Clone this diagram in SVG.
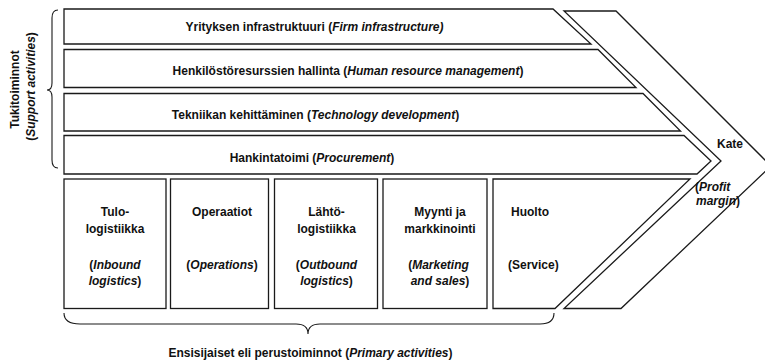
<svg xmlns="http://www.w3.org/2000/svg" width="765" height="363" viewBox="0 0 765 363">
<style>
.box{fill:#fff;stroke:#1a1a1a;stroke-width:1.3;stroke-linejoin:miter}
.brace{fill:none;stroke:#1a1a1a;stroke-width:1.1}
text{font-family:"Liberation Sans",Arial,sans-serif;font-size:12px;font-weight:bold;fill:#111}
.c{text-anchor:middle}
.i{font-style:italic}
</style>
<rect width="765" height="363" fill="#fff"/>

<g id="margin">
<polygon class="box" points="564,11 616,11 771,166 621,308.5 564,308.5 721,161"/>
<text class="c" x="730" y="148">Kate</text>
<text x="695" y="190.5">(<tspan class="i">Profit</tspan></text>
<text x="696" y="205"><tspan class="i">margin</tspan>)</text>
</g>

<g id="firm-infrastructure">
<polygon class="box" points="64,9 553,9 591,44 64,44"/>
<text class="c" x="314.5" y="31">Yrityksen infrastruktuuri (<tspan class="i">Firm infrastructure)</tspan></text>
</g>
<g id="human-resource">
<polygon class="box" points="64,49.5 598,49.5 636,87.5 64,87.5"/>
<text class="c" x="348" y="75">Henkilöstöresurssien hallinta (<tspan class="i">Human resource management</tspan>)</text>
</g>
<g id="technology">
<polygon class="box" points="64,93.5 643,93.5 680.5,131 64,131"/>
<text class="c" x="315.5" y="119">Tekniikan kehittäminen (<tspan class="i">Technology development</tspan>)</text>
</g>
<g id="procurement">
<polygon class="box" points="64,135.5 684,135.5 711,161 697,174 64,174"/>
<text class="c" x="312" y="161.5">Hankintatoimi (<tspan class="i">Procurement</tspan>)</text>
</g>

<g id="inbound">
<rect class="box" x="64" y="179" width="102" height="129.5"/>
<text class="c" x="115" y="216">Tulo-</text>
<text class="c" x="115" y="232.7">logistiikka</text>
<text class="c" x="115" y="269">(<tspan class="i">Inbound</tspan></text>
<text class="c" x="115" y="285"><tspan class="i">logistics</tspan>)</text>
</g>
<g id="operations">
<rect class="box" x="170.5" y="179" width="98" height="129.5"/>
<text class="c" x="222" y="216">Operaatiot</text>
<text class="c" x="222" y="269">(<tspan class="i">Operations</tspan>)</text>
</g>
<g id="outbound">
<rect class="box" x="274.5" y="179" width="103" height="129.5"/>
<text class="c" x="326.5" y="216">Lähtö-</text>
<text class="c" x="326.5" y="232.7">logistiikka</text>
<text class="c" x="326.5" y="269">(<tspan class="i">Outbound</tspan></text>
<text class="c" x="326.5" y="285"><tspan class="i">logistics</tspan>)</text>
</g>
<g id="marketing">
<rect class="box" x="383" y="179" width="104" height="129.5"/>
<text class="c" x="440" y="216">Myynti ja</text>
<text class="c" x="440" y="232.7">markkinointi</text>
<text class="c" x="438.5" y="269">(<tspan class="i">Marketing</tspan></text>
<text class="c" x="440" y="285"><tspan class="i">and sales</tspan>)</text>
</g>
<g id="service">
<polygon class="box" points="493,179 690,179 555,308.5 493,308.5"/>
<text x="511" y="216">Huolto</text>
<text x="508" y="269">(Service)</text>
</g>

<g id="braces">
<path class="brace" d="M58,10 Q52,10 52,18 L52,83 Q52,90 47,90 Q52,90 52,97 L52,160 Q52,168 58,168"/>
<path class="brace" d="M64,313 Q64,324 80,324 L296,324 Q308,324 308,334 Q308,324 320,324 L540,324 Q554,324 554,313"/>
</g>

<g id="group-labels">
<text class="c" transform="translate(19,89.5) rotate(-90)">Tukitoiminnot</text>
<text class="c" transform="translate(35,86.5) rotate(-90)">(<tspan class="i">Support activities</tspan>)</text>
<text class="c" x="310.5" y="356.5">Ensisijaiset eli perustoiminnot (<tspan class="i">Primary activities</tspan>)</text>
</g>
</svg>
